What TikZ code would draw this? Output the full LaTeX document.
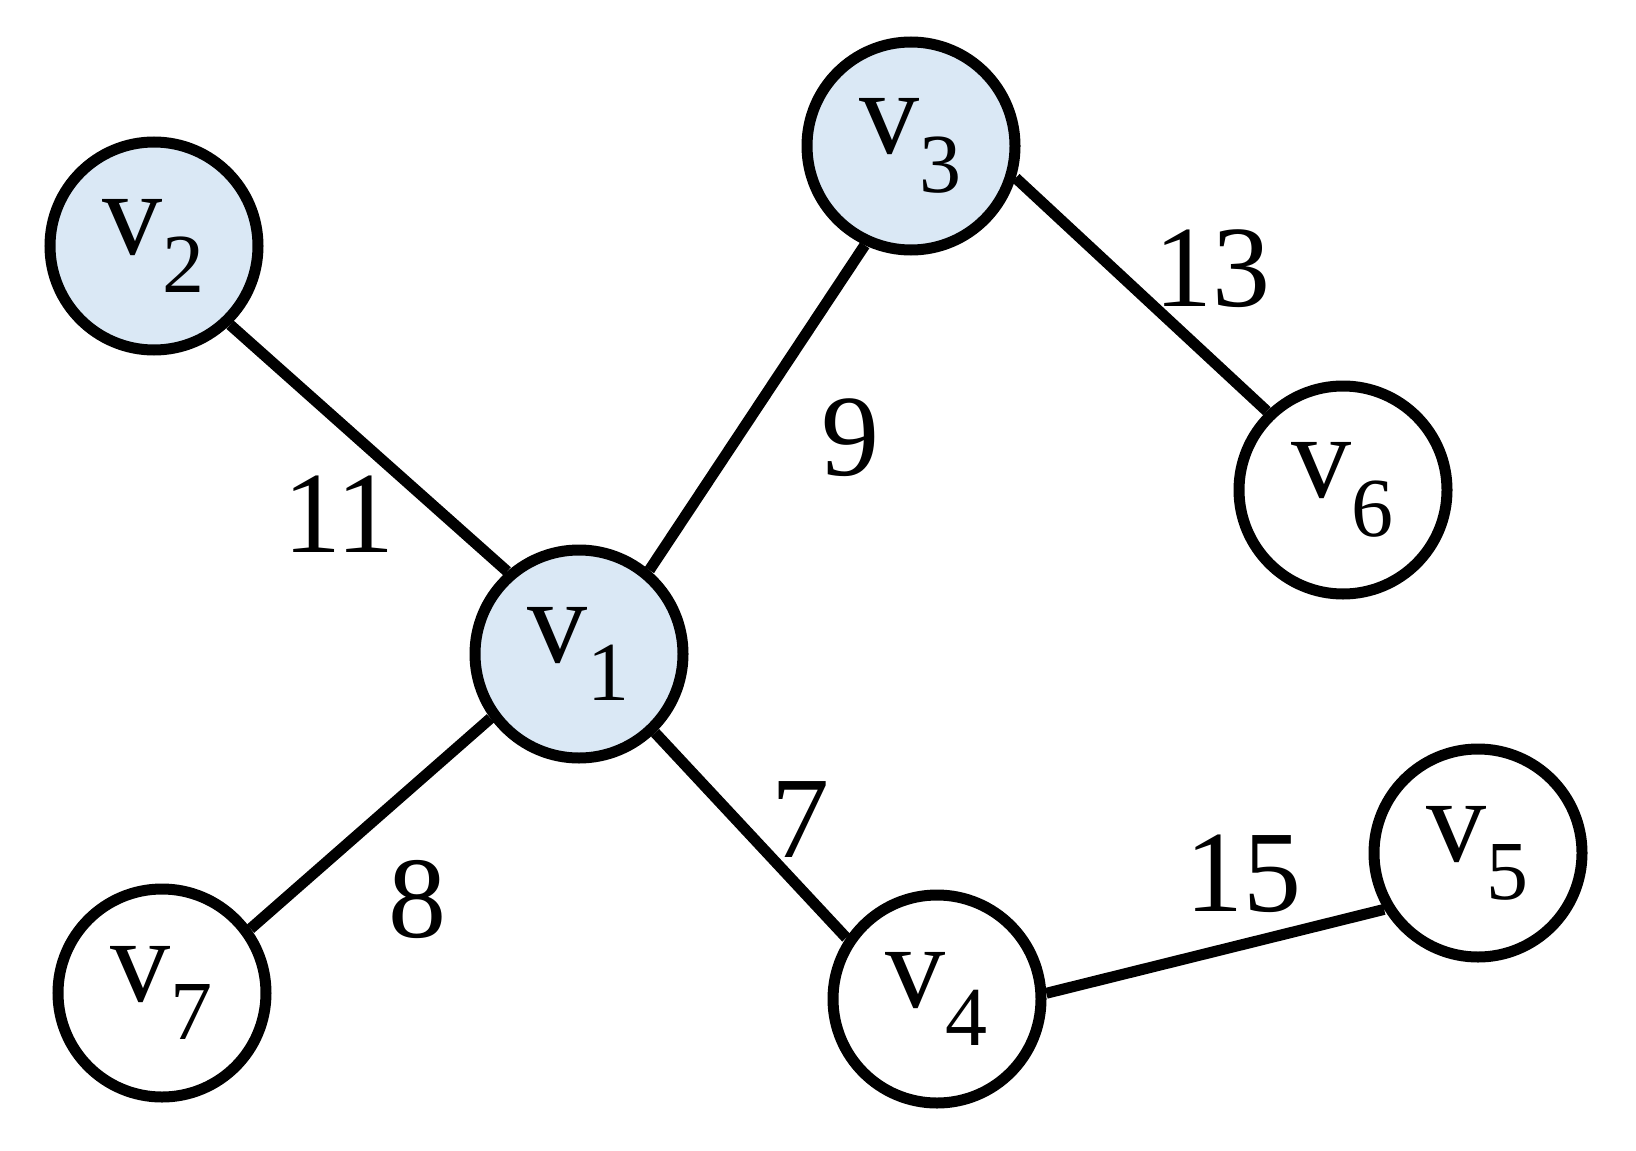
\documentclass[tikz,border=0pt]{standalone}
\usepackage{fontspec}
\setmainfont{Liberation Serif}
\definecolor{lb}{HTML}{DAE8F5}
\begin{document}
\begin{tikzpicture}[x=0.5pt,y=-0.5pt,
  v/.style={circle,draw,line width=5.5pt,minimum size=104pt,inner sep=0pt,font=\fontsize{60}{66}\selectfont,fill=white},
  s/.style={v,fill=lb},
  e/.style={line width=5.5pt},
  w/.style={font=\fontsize{58}{64}\selectfont}]
\useasboundingbox (0,0) rectangle (1636,1150);
\node[s] (v2) at (154,246) {v\textsubscript{2}};
\node[s] (v3) at (911,146) {v\textsubscript{3}};
\node[s] (v1) at (579,654) {v\textsubscript{1}};
\node[v] (v6) at (1343,490) {v\textsubscript{6}};
\node[v] (v7) at (162,993) {v\textsubscript{7}};
\node[v] (v4) at (937,999) {v\textsubscript{4}};
\node[v] (v5) at (1478,853) {v\textsubscript{5}};
\draw[e] (v1.131) -- (v2.314);
\draw[e] (v1.50) -- (v3.245);
\draw[e] (v3.343) -- (v6.134);
\draw[e] (v1.216) -- (v7.36);
\draw[e] (v1.314) -- (v4.146);
\draw[e] (v4.3) -- (v5.211);
\node[w] (l11) at (339,514) {11};
\node[w] (l9) at (850,438) {9};
\node[w] (l13) at (1212,269) {13};
\node[w] (l7) at (800,820) {7};
\node[w] (l8) at (417,899) {8};
\node[w] (l15) at (1243,874) {15};
\end{tikzpicture}
\end{document}
